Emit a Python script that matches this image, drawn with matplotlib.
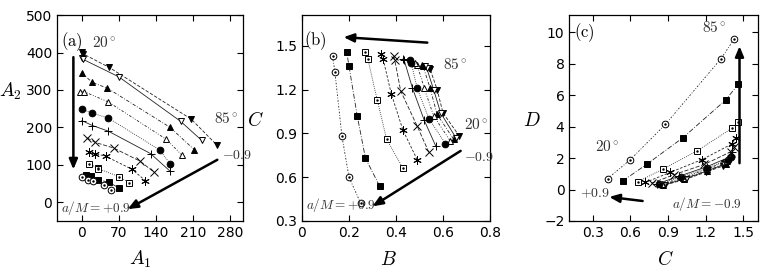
import matplotlib
matplotlib.use("Agg")
import matplotlib.pyplot as plt

plt.rcParams['mathtext.fontset'] = 'cm'
plt.rcParams['font.family'] = ['Liberation Sans Narrow', 'DejaVu Sans']

# series from a/M = -0.9 (first) to +0.9 (last); points ordered 20 deg -> 85 deg
spins = [-0.9, -0.7, -0.5, -0.3, -0.1, 0.0, 0.1, 0.3, 0.5, 0.7, 0.9]

A1 = [
    [0, 3, 52, 207, 256],
    [0, 2, 70, 187, 227],
    [0, 20, 48, 167, 213],
    [-3, 5, 50, 160, 190],
    [0, 20, 50, 147, 167],
    [0, 20, 50, 130, 167],
    [10, 25, 60, 110, 137],
    [13, 25, 45, 95, 120],
    [14, 30, 31, 71, 90],
    [8, 18, 31, 52, 70],
    [0, 11, 22, 41, 55],
]
A2 = [
    [402, 396, 360, 222, 152],
    [386, 382, 335, 216, 165],
    [345, 320, 305, 200, 140],
    [295, 295, 268, 168, 125],
    [248, 238, 225, 140, 103],
    [218, 205, 190, 130, 83],
    [172, 160, 145, 110, 80],
    [135, 130, 123, 88, 58],
    [102, 92, 90, 68, 52],
    [72, 70, 60, 53, 38],
    [67, 60, 56, 46, 32],
]
B = [
    [0.67, 0.60, 0.575, 0.545, 0.54],
    [0.655, 0.59, 0.56, 0.53, 0.525],
    [0.645, 0.575, 0.545, 0.515, 0.51],
    [0.63, 0.56, 0.52, 0.49, 0.48],
    [0.61, 0.54, 0.49, 0.465, 0.46],
    [0.57, 0.52, 0.47, 0.435, 0.43],
    [0.54, 0.49, 0.42, 0.395, 0.39],
    [0.49, 0.43, 0.38, 0.345, 0.335],
    [0.43, 0.36, 0.32, 0.28, 0.27],
    [0.33, 0.27, 0.235, 0.20, 0.19],
    [0.25, 0.20, 0.17, 0.14, 0.13],
]
C = [
    [0.88, 1.04, 1.20, 1.34, 1.35],
    [0.87, 1.04, 1.20, 1.35, 1.36],
    [0.86, 1.03, 1.21, 1.36, 1.37],
    [0.85, 1.02, 1.21, 1.37, 1.38],
    [0.83, 1.00, 1.21, 1.38, 1.40],
    [0.81, 0.99, 1.21, 1.40, 1.41],
    [0.77, 0.95, 1.19, 1.40, 1.43],
    [0.72, 0.92, 1.17, 1.41, 1.44],
    [0.66, 0.86, 1.13, 1.41, 1.46],
    [0.54, 0.73, 1.02, 1.36, 1.46],
    [0.42, 0.60, 0.88, 1.32, 1.43],
]
D = [
    [0.30, 0.65, 1.10, 1.50, 1.70],
    [0.30, 0.70, 1.15, 1.60, 1.75],
    [0.30, 0.70, 1.20, 1.65, 1.85],
    [0.35, 0.75, 1.30, 1.80, 2.00],
    [0.35, 0.80, 1.35, 1.90, 2.10],
    [0.35, 0.85, 1.45, 2.10, 2.40],
    [0.40, 0.95, 1.60, 2.40, 2.70],
    [0.45, 1.10, 1.90, 2.90, 3.30],
    [0.50, 1.30, 2.45, 3.90, 4.30],
    [0.55, 1.60, 3.30, 5.70, 6.70],
    [0.70, 1.90, 4.15, 8.30, 9.60],
]

markers = ['v', 'v', '^', '^', 'o', '+', 'x', (6, 2, 0), 's', 's', 'o']
filled = [True, False, True, False, True, True, True, True, False, True, False]
dashes = [(4, 2), (), (4, 2, 1, 2), (3, 2, 1, 2, 1, 2), (1, 1.5), (), (5, 2),
          (3, 2), (1, 1.5), (6, 2, 1, 2), (2, 2, 1, 2)]
msizes = [4.2, 4.2, 4.2, 4.2, 4.8, 6, 5.5, 6, 4.8, 4.8, 4.8]


def draw(ax, xs, ys):
    for i in range(len(spins)):
        ls = '-' if len(dashes[i]) == 0 else (0, dashes[i])
        ax.plot(xs[i], ys[i], color='#222222', lw=0.6, linestyle=ls,
                marker=markers[i], ms=msizes[i], mew=0.7,
                mfc='k' if filled[i] else 'white', mec='k')
        if markers[i] in ('o', 's') and not filled[i]:
            ax.plot(xs[i], ys[i], ls='none', marker='.', ms=1.5, color='k')


def style(ax):
    ax.tick_params(direction='in', top=True, right=True, length=4,
                   labelsize=10, width=0.8)
    for s in ax.spines.values():
        s.set_linewidth(0.9)


arrow = dict(arrowstyle='-|>,head_length=0.6,head_width=0.25', lw=1.8, color='k')
tcol = '#333333'

fig = plt.figure(figsize=(7.63, 2.79), dpi=100)

# panel (a)
ax = fig.add_axes([0.0747, 0.208, 0.2438, 0.738])
draw(ax, A1, A2)
ax.set_xlim(-47, 305)
ax.set_ylim(-50, 500)
ax.set_xticks([0, 70, 140, 210, 280])
ax.set_yticks([0, 100, 200, 300, 400, 500])
style(ax)
ax.set_xlabel(r'$A_1$', fontsize=14)
ax.set_ylabel(r'$A_2$', fontsize=14, rotation=0)
ax.xaxis.set_label_coords(0.45, -0.135)
ax.yaxis.set_label_coords(-0.25, 0.58)
ax.annotate('', xy=(-16, 80), xytext=(-16, 395), arrowprops=arrow)
ax.annotate('', xy=(82, -22), xytext=(261, 117), arrowprops=arrow)
ax.text(-40, 430, r'$\mathrm{(a)}$', fontsize=12, va='center')
ax.text(20, 428, r'$20^\circ$', fontsize=11, va='center', color=tcol)
ax.text(250, 225, r'$85^\circ$', fontsize=11, va='center', color=tcol)
ax.text(266, 125, r'$-0.9$', fontsize=10, va='center', color=tcol)
ax.text(-40, -15, r'$a/M=+0.9$', fontsize=9.5, va='center', color=tcol)

# panel (b)
ax = fig.add_axes([0.3958, 0.208, 0.2464, 0.738])
draw(ax, B, C)
ax.set_xlim(0, 0.8)
ax.set_ylim(0.3, 1.71)
ax.set_xticks([0, 0.2, 0.4, 0.6, 0.8])
ax.set_xticklabels(['0', '0.2', '0.4', '0.6', '0.8'])
ax.set_yticks([0.3, 0.6, 0.9, 1.2, 1.5])
style(ax)
ax.set_xlabel(r'$B$', fontsize=14)
ax.set_ylabel(r'$C$', fontsize=14, rotation=0)
ax.xaxis.set_label_coords(0.46, -0.14)
ax.yaxis.set_label_coords(-0.25, 0.44)
ax.annotate('', xy=(0.165, 1.56), xytext=(0.545, 1.52), arrowprops=arrow)
ax.annotate('', xy=(0.29, 0.39), xytext=(0.685, 0.79), arrowprops=arrow)
ax.text(0.01, 1.535, r'$\mathrm{(b)}$', fontsize=12, va='center')
ax.text(0.60, 1.37, r'$85^\circ$', fontsize=11, va='center', color=tcol)
ax.text(0.69, 0.96, r'$20^\circ$', fontsize=11, va='center', color=tcol)
ax.text(0.69, 0.74, r'$-0.9$', fontsize=10, va='center', color=tcol)
ax.text(0.015, 0.41, r'$a/M=+0.9$', fontsize=9.5, va='center', color=tcol)

# panel (c)
ax = fig.add_axes([0.7461, 0.208, 0.2473, 0.738])
draw(ax, C, D)
ax.set_xlim(0.114, 1.617)
ax.set_ylim(-2, 11.1)
ax.set_xticks([0.3, 0.6, 0.9, 1.2, 1.5])
ax.set_yticks([-2, 0, 2, 4, 6, 8, 10])
style(ax)
ax.set_xlabel(r'$C$', fontsize=14)
ax.set_ylabel(r'$D$', fontsize=14, rotation=0)
ax.xaxis.set_label_coords(0.51, -0.14)
ax.yaxis.set_label_coords(-0.2, 0.44)
ax.annotate('', xy=(1.47, 9.3), xytext=(1.47, 1.5), arrowprops=arrow)
ax.annotate('', xy=(0.41, -0.45), xytext=(0.72, -0.75), arrowprops=arrow)
ax.text(0.15, 10.0, r'$\mathrm{(c)}$', fontsize=12, va='center')
ax.text(1.17, 10.3, r'$85^\circ$', fontsize=11, va='center', color=tcol)
ax.text(0.32, 2.75, r'$20^\circ$', fontsize=11, va='center', color=tcol)
ax.text(0.2, -0.25, r'$+0.9$', fontsize=10, va='center', color=tcol)
ax.text(0.93, -0.9, r'$a/M=-0.9$', fontsize=9.5, va='center', color=tcol)

fig.savefig('out.png', dpi=100)
